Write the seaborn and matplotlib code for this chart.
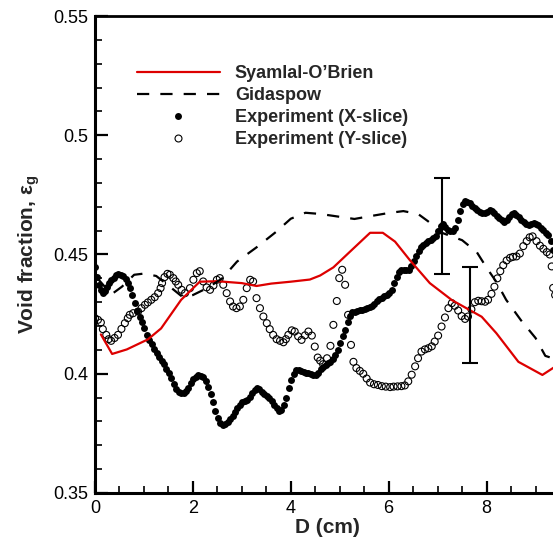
import numpy as np
import pandas as pd
import matplotlib
matplotlib.use("Agg")
import matplotlib.pyplot as plt
import seaborn as sns
from matplotlib.ticker import MultipleLocator, FuncFormatter
from matplotlib.lines import Line2D

# ---------------- data ----------------
so_D = [0.12, 0.35, 0.65, 1.08, 1.35, 1.76, 2.14, 2.5, 3.0, 3.3, 3.6, 4.0, 4.39, 4.6,
        4.87, 5.2, 5.62, 5.88, 6.13, 6.43, 6.84, 7.29, 7.9, 8.2, 8.65, 9.14, 9.5]
so_void = [0.4165, 0.4083, 0.4102, 0.4144, 0.419, 0.431, 0.4386, 0.4388, 0.4380, 0.4368,
           0.4378, 0.4386, 0.4395, 0.4412, 0.4446, 0.451, 0.4591, 0.4591, 0.4554, 0.4477,
           0.438, 0.4309, 0.4239, 0.417, 0.405, 0.3995, 0.4043]

gd_D = [0.05, 0.2, 0.35, 0.55, 0.8, 1.0, 1.25, 1.5, 1.8, 2.0, 2.3, 2.6, 2.9, 3.3, 3.7,
        4.0, 4.3, 4.6, 5.0, 5.3, 5.6, 6.0, 6.3, 6.6, 6.8, 7.1, 7.5, 7.8, 8.0, 8.2, 8.4,
        8.7, 9.0, 9.2, 9.5]
gd_void = [0.440, 0.4365, 0.4335, 0.4365, 0.4415, 0.442, 0.441, 0.437, 0.432, 0.433,
           0.436, 0.440, 0.447, 0.453, 0.4595, 0.465, 0.4675, 0.467, 0.4658, 0.4649,
           0.466, 0.4674, 0.4682, 0.467, 0.464, 0.459, 0.456, 0.451, 0.4445, 0.4385,
           0.431, 0.4225, 0.415, 0.4075, 0.4055]

xs_D = [0.00, 0.04, 0.08, 0.12, 0.16, 0.21, 0.25, 0.29, 0.33, 0.38, 0.43, 0.48, 0.53, 0.58,
        0.63, 0.68, 0.72, 0.76, 0.81, 0.86, 0.91, 0.96, 1.01, 1.06, 1.11, 1.16, 1.21, 1.26,
        1.31, 1.36, 1.41, 1.46, 1.51, 1.56, 1.61, 1.66, 1.71, 1.76, 1.81, 1.86, 1.91, 1.96,
        2.01, 2.06, 2.11, 2.16, 2.21, 2.26, 2.31, 2.36, 2.41, 2.46, 2.51, 2.56, 2.61, 2.66,
        2.71, 2.76, 2.81, 2.86, 2.91, 2.96, 3.01, 3.06, 3.11, 3.16, 3.21, 3.26, 3.31, 3.36,
        3.41, 3.46, 3.51, 3.56, 3.61, 3.66, 3.71, 3.76, 3.81, 3.86, 3.91, 3.96, 4.01, 4.06,
        4.11, 4.16, 4.21, 4.26, 4.31, 4.36, 4.41, 4.46, 4.51, 4.56, 4.61, 4.66, 4.71, 4.76,
        4.81, 4.86, 4.91, 4.96, 5.01, 5.06, 5.11, 5.16, 5.21, 5.26, 5.31, 5.36, 5.41, 5.46,
        5.51, 5.56, 5.61, 5.66, 5.71, 5.76, 5.81, 5.86, 5.91, 5.96, 6.01, 6.06, 6.11, 6.16,
        6.21, 6.26, 6.31, 6.36, 6.41, 6.46, 6.51, 6.56, 6.61, 6.66, 6.71, 6.76, 6.81, 6.86,
        6.91, 6.96, 7.01, 7.06, 7.11, 7.16, 7.21, 7.26, 7.31, 7.36, 7.41, 7.46, 7.51, 7.56,
        7.61, 7.66, 7.71, 7.76, 7.81, 7.86, 7.91, 7.96, 8.01, 8.06, 8.11, 8.16, 8.21, 8.26,
        8.31, 8.36, 8.41, 8.46, 8.51, 8.56, 8.61, 8.66, 8.71, 8.76, 8.81, 8.86, 8.91, 8.96,
        9.01, 9.06, 9.11, 9.16, 9.21, 9.26, 9.31, 9.36, 9.41]
xs_void = [0.4446, 0.4405, 0.4372, 0.4352, 0.4338, 0.4348, 0.4365, 0.4380, 0.4393, 0.4403,
           0.4412, 0.4417, 0.4416, 0.4410, 0.4398, 0.4382, 0.4360, 0.4332, 0.4298, 0.4265,
           0.4238, 0.4215, 0.4190, 0.4162, 0.4142, 0.4124, 0.4104, 0.4088, 0.4072, 0.4055,
           0.4040, 0.4022, 0.4003, 0.3984, 0.3958, 0.3935, 0.3922, 0.3918, 0.3920, 0.3928,
           0.3942, 0.3960, 0.3976, 0.3988, 0.3993, 0.3992, 0.3985, 0.3970, 0.3945, 0.3915,
           0.3880, 0.3845, 0.3815, 0.3795, 0.3786, 0.3788, 0.3798, 0.3810, 0.3824, 0.3840,
           0.3856, 0.3870, 0.3880, 0.3887, 0.3892, 0.3902, 0.3918, 0.3932, 0.3940, 0.3935,
           0.3925, 0.3916, 0.3908, 0.3899, 0.3886, 0.3870, 0.3855, 0.3843, 0.3848, 0.3868,
           0.3900, 0.3940, 0.3975, 0.3998, 0.4014, 0.4014, 0.4010, 0.4008, 0.4005, 0.4003,
           0.4000, 0.3995, 0.3996, 0.4004, 0.4018, 0.4030, 0.4037, 0.4043, 0.4050, 0.4063,
           0.4077, 0.4100, 0.4130, 0.4160, 0.4185, 0.4215, 0.4243, 0.4257, 0.4261, 0.4264,
           0.4266, 0.4268, 0.4272, 0.4276, 0.4279, 0.4284, 0.4292, 0.4303, 0.4312, 0.4319,
           0.4325, 0.4330, 0.4338, 0.4352, 0.4380, 0.4405, 0.4425, 0.4435, 0.4434, 0.4433,
           0.4437, 0.4450, 0.4472, 0.4492, 0.4515, 0.4532, 0.4541, 0.4549, 0.4556, 0.4562,
           0.4569, 0.4578, 0.4598, 0.4618, 0.4628, 0.4615, 0.4604, 0.4598, 0.4597, 0.4610,
           0.4645, 0.4682, 0.4710, 0.4724, 0.4722, 0.4715, 0.4704, 0.4694, 0.4686, 0.4680,
           0.4676, 0.4673, 0.4680, 0.4687, 0.4684, 0.4674, 0.4663, 0.4652, 0.4643, 0.4638,
           0.4645, 0.4658, 0.4670, 0.4672, 0.4665, 0.4657, 0.4646, 0.4636, 0.4628, 0.4624,
           0.4628, 0.4631, 0.4628, 0.4622, 0.4612, 0.4603, 0.4592, 0.4580, 0.4555, 0.4520,
           0.4490]

ys_D = [0.00, 0.06, 0.12, 0.16, 0.23, 0.28, 0.33, 0.40, 0.47, 0.54, 0.61, 0.67, 0.71, 0.78,
        0.88, 0.95, 1.02, 1.08, 1.15, 1.22, 1.29, 1.34, 1.37, 1.42, 1.48, 1.53, 1.60, 1.65,
        1.70, 1.77, 1.84, 1.94, 2.01, 2.08, 2.14, 2.21, 2.28, 2.35, 2.42, 2.49, 2.55, 2.62,
        2.69, 2.76, 2.82, 2.89, 2.96, 3.03, 3.10, 3.17, 3.23, 3.30, 3.37, 3.44, 3.51, 3.57,
        3.64, 3.71, 3.78, 3.85, 3.90, 3.95, 4.02, 4.08, 4.15, 4.22, 4.29, 4.36, 4.43, 4.49,
        4.55, 4.60, 4.66, 4.74, 4.81, 4.87, 4.94, 4.99, 5.05, 5.11, 5.17, 5.23, 5.28, 5.34,
        5.41, 5.48, 5.55, 5.62, 5.70, 5.78, 5.86, 5.94, 6.03, 6.10, 6.18, 6.26, 6.33, 6.40,
        6.47, 6.54, 6.60, 6.67, 6.74, 6.81, 6.88, 6.94, 7.01, 7.08, 7.15, 7.22, 7.29, 7.35,
        7.42, 7.49, 7.56, 7.62, 7.69, 7.76, 7.83, 7.90, 7.97, 8.03, 8.10, 8.16, 8.22, 8.28,
        8.34, 8.41, 8.48, 8.54, 8.61, 8.68, 8.75, 8.82, 8.88, 8.94, 9.02, 9.09, 9.16, 9.23,
        9.29, 9.33, 9.36, 9.40]
ys_void = [0.4233, 0.4226, 0.4215, 0.4187, 0.4163, 0.4145, 0.4138, 0.4150, 0.4163, 0.4188,
           0.4212, 0.4233, 0.4247, 0.4254, 0.4261, 0.4275, 0.4289, 0.4299, 0.4310, 0.4321,
           0.4338, 0.4359, 0.4380, 0.4405, 0.4419, 0.4415, 0.4401, 0.4387, 0.4373, 0.4352,
           0.4338, 0.4359, 0.4394, 0.4422, 0.4430, 0.4387, 0.4362, 0.4352, 0.4370, 0.4394,
           0.4401, 0.4373, 0.4338, 0.4303, 0.4282, 0.4275, 0.4282, 0.4310, 0.4359, 0.4394,
           0.4387, 0.4317, 0.4275, 0.4240, 0.4212, 0.4187, 0.4163, 0.4145, 0.4138, 0.4132,
           0.4145, 0.4163, 0.4182, 0.4177, 0.4157, 0.4142, 0.4161, 0.4177, 0.4160, 0.4114,
           0.4068, 0.4055, 0.4040, 0.4065, 0.4117, 0.4205, 0.4305, 0.4401, 0.4436, 0.4373,
           0.4247, 0.4121, 0.4050, 0.4024, 0.4012, 0.4000, 0.3980, 0.3963, 0.3956, 0.3953,
           0.3948, 0.3946, 0.3944, 0.3946, 0.3947, 0.3948, 0.3951, 0.3968, 0.3996, 0.4031,
           0.4065, 0.4093, 0.4102, 0.4107, 0.4115, 0.4135, 0.4160, 0.4198, 0.4236, 0.4275,
           0.4296, 0.4285, 0.4265, 0.4242, 0.4230, 0.4240, 0.4270, 0.4300, 0.4306, 0.4304,
           0.4302, 0.4310, 0.4335, 0.4365, 0.4400, 0.4430, 0.4455, 0.4475, 0.4486, 0.4490,
           0.4492, 0.4504, 0.4535, 0.4556, 0.4572, 0.4576, 0.4556, 0.4537, 0.4524, 0.4510,
           0.4500, 0.4450, 0.4360, 0.4330]

err_D = [7.08, 7.67]
err_center = [0.462, 0.4247]
err_half = [0.020, 0.020]

series_labels = ["Syamlal-O\u2019Brien", "Gidaspow", "Experiment (X-slice)", "Experiment (Y-slice)"]

# ---------------- style ----------------
sns.set_theme(style="white")
plt.rcParams["font.family"] = ["Liberation Sans", "DejaVu Sans"]
plt.rcParams["mathtext.fontset"] = "custom"
plt.rcParams["mathtext.rm"] = "Liberation Sans"
plt.rcParams["mathtext.it"] = "Liberation Sans:italic"
plt.rcParams["mathtext.bf"] = "Liberation Sans:bold"

RED = "#dd0000"

fig = plt.figure(figsize=(5.53, 5.42), dpi=100)
ax = fig.add_axes([95 / 553, 49 / 542, 465 / 553, 477 / 542])
ax.set_facecolor("white")

df_x = pd.DataFrame({"D": xs_D, "void": xs_void})
df_y = pd.DataFrame({"D": ys_D, "void": ys_void})
df_so = pd.DataFrame({"D": so_D, "void": so_void})
df_gd = pd.DataFrame({"D": gd_D, "void": gd_void})

sns.scatterplot(data=df_y, x="D", y="void", ax=ax, marker="o", s=25,
                facecolor="none", edgecolor="black", linewidth=0.8, legend=False, zorder=3)
sns.scatterplot(data=df_x, x="D", y="void", ax=ax, marker="o", s=25,
                color="black", linewidth=0, legend=False, zorder=3)
sns.lineplot(data=df_so, x="D", y="void", ax=ax, color=RED, linewidth=1.6,
             sort=False, estimator=None, legend=False, zorder=4)
sns.lineplot(data=df_gd, x="D", y="void", ax=ax, color="black", linewidth=1.6,
             linestyle=(0, (5.5, 5.0)), sort=False, estimator=None, legend=False, zorder=4)
ax.errorbar(err_D, err_center, yerr=err_half, fmt="none", ecolor="black",
            elinewidth=1.5, capsize=6, capthick=1.5, zorder=5)

ax.set_xlim(0, 9.5)
ax.set_ylim(0.35, 0.55)

ax.xaxis.set_major_locator(MultipleLocator(2))
ax.xaxis.set_minor_locator(MultipleLocator(0.5))
ax.yaxis.set_major_locator(MultipleLocator(0.05))
ax.yaxis.set_minor_locator(MultipleLocator(0.01))
fmt = FuncFormatter(lambda v, p: f"{v:g}")
ax.xaxis.set_major_formatter(fmt)
ax.yaxis.set_major_formatter(fmt)

ax.tick_params(which="both", direction="in", top=False, right=False,
               left=True, bottom=True, colors="black", labelsize=13)
ax.tick_params(which="major", length=9, width=1.6, pad=5)
ax.tick_params(which="minor", length=5, width=1.2)

for side, lw in (("left", 2.2), ("bottom", 2.2), ("top", 2.0), ("right", 2.0)):
    ax.spines[side].set_color("black")
    ax.spines[side].set_linewidth(lw)

ax.set_xlabel("D (cm)", fontsize=15, fontweight="bold")
ax.set_ylabel("Void fraction, $\\mathregular{\\varepsilon_g}$", fontsize=15, fontweight="bold")
ax.xaxis.set_label_coords(0.5, -0.053)
ax.yaxis.set_label_coords(-0.113, 0.5)

handles = [
    Line2D([], [], color=RED, lw=1.6),
    Line2D([], [], color="black", lw=1.6, linestyle=(0, (5.5, 5.0))),
    Line2D([], [], color="black", marker="o", linestyle="none", markersize=5,
           markeredgewidth=0),
    Line2D([], [], color="black", marker="o", linestyle="none", markersize=5,
           markerfacecolor="none", markeredgewidth=0.8),
]
leg = ax.legend(handles, series_labels, loc="upper left", bbox_to_anchor=(0.09, 0.897),
                frameon=False, borderpad=0, borderaxespad=0, handlelength=4.6,
                handletextpad=0.83, labelspacing=0.28,
                prop={"family": "Liberation Sans", "weight": "bold", "size": 13})

fig.savefig("out.png", dpi=100, facecolor="white")
